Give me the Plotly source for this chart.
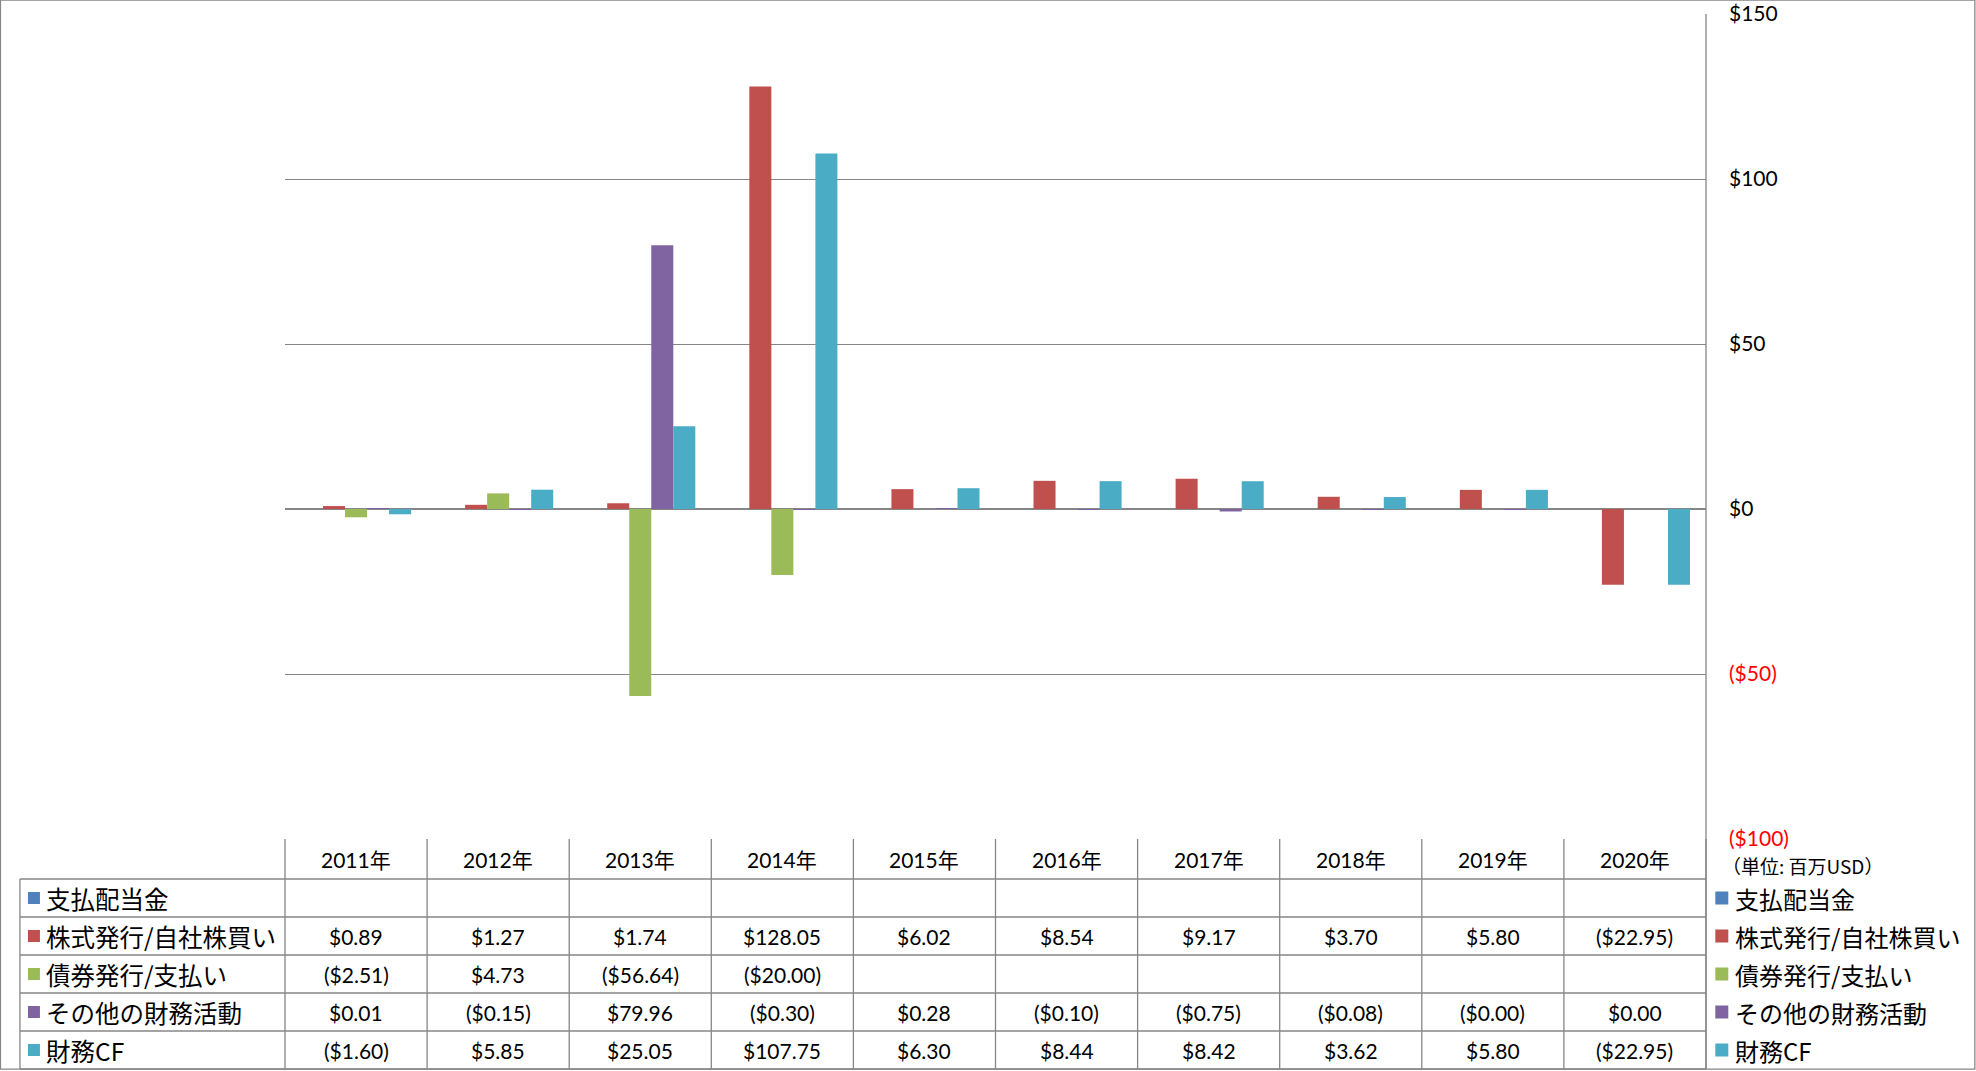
import plotly.graph_objects as go

# ---------------- data ----------------
years = ["2011年", "2012年", "2013年", "2014年", "2015年",
         "2016年", "2017年", "2018年", "2019年", "2020年"]
series_names = ["支払配当金", "株式発行/自社株買い", "債券発行/支払い", "その他の財務活動", "財務CF"]
dividends = [None, None, None, None, None, None, None, None, None, None]
stock = [0.89, 1.27, 1.74, 128.05, 6.02, 8.54, 9.17, 3.70, 5.80, -22.95]
bonds = [-2.51, 4.73, -56.64, -20.00, None, None, None, None, None, None]
other = [0.01, -0.15, 79.96, -0.30, 0.28, -0.10, -0.75, -0.08, -0.004, 0.00]
cf = [-1.60, 5.85, 25.05, 107.75, 6.30, 8.44, 8.42, 3.62, 5.80, -22.95]
series_values = [dividends, stock, bonds, other, cf]
colors = ["#4F81BD", "#C0504D", "#9BBB59", "#8064A2", "#4BACC6"]
tick_vals = [150, 100, 50, 0, -50, -100]
tick_text = ["$150", "$100", "$50", "$0", "($50)", "($100)"]
negative_tick_color = "#FF0000"
unit_label = "（単位: 百万USD）"

# ---------------- layout geometry (pixels) ----------------
W_PX, H_PX = 1976, 1071
L, R = 285.0, 1705.7
T, B = 14.3, 839.3
PW, PH = R - L, B - T
GRID = "#868686"
LATIN = "Lato, 'Noto Sans CJK JP', sans-serif"
CJK = "'Noto Sans CJK JP', sans-serif"


def px(x):
    return (x - L) / PW


def py(y):
    return (B - y) / PH


def fmt(v):
    if v is None:
        return ""
    if v < 0:
        return "(${:,.2f})".format(abs(v))
    return "${:,.2f}".format(v)


fig = go.Figure()
for name, vals, col in zip(series_names, series_values, colors):
    fig.add_trace(go.Bar(x=years, y=vals, name=name, marker=dict(color=col, line=dict(width=0)),
                         showlegend=False))

ticktext = []
for v, t in zip(tick_vals, tick_text):
    if v < 0:
        ticktext.append('<span style="color:%s">%s</span>' % (negative_tick_color, t))
    else:
        ticktext.append(t)

shapes = []
annotations = []

# outer border
shapes.append(dict(type="rect", xref="paper", yref="paper",
                   x0=px(0.5), x1=px(W_PX - 1.5), y0=py(0.5), y1=py(H_PX - 1.5),
                   line=dict(color=GRID, width=1.3), fillcolor="rgba(0,0,0,0)", layer="below"))
# right vertical axis line (plot + table)
header_top, header_bot = 839.3, 879.3
row_h = 38.0
row_lines = [header_bot + i * row_h for i in range(len(series_names) + 1)]
table_bottom = row_lines[-1]
shapes.append(dict(type="line", xref="paper", yref="paper", x0=1, x1=1, y0=1, y1=py(table_bottom),
                   line=dict(color=GRID, width=1.3)))
# table vertical lines
n = len(years)
for i in range(n + 1):
    xp = i / n
    shapes.append(dict(type="line", xref="paper", yref="paper", x0=xp, x1=xp,
                       y0=py(header_top), y1=py(table_bottom), line=dict(color=GRID, width=1.3)))
label_left = 20.0
shapes.append(dict(type="line", xref="paper", yref="paper", x0=px(label_left), x1=px(label_left),
                   y0=py(header_bot), y1=py(table_bottom), line=dict(color=GRID, width=1.3)))
# table horizontal lines
for yl in row_lines:
    shapes.append(dict(type="line", xref="paper", yref="paper", x0=px(label_left), x1=1,
                       y0=py(yl), y1=py(yl), line=dict(color=GRID, width=1.3)))

# header labels
for i, yr in enumerate(years):
    annotations.append(dict(x=yr, xref="x", y=py((header_top + header_bot) / 2), yref="paper",
                            text=yr, showarrow=False, xanchor="center", yanchor="middle",
                            font=dict(family=LATIN, size=21, color="#000000")))

# rows
for r, (name, vals, col) in enumerate(zip(series_names, series_values, colors)):
    yc = (row_lines[r] + row_lines[r + 1]) / 2
    # left legend key
    shapes.append(dict(type="rect", xref="paper", yref="paper",
                       x0=px(28), x1=px(40), y0=py(yc - 6), y1=py(yc + 6),
                       fillcolor=col, line=dict(width=0)))
    annotations.append(dict(x=px(44), xref="paper", y=py(yc), yref="paper", text=name,
                            showarrow=False, xanchor="left", yanchor="middle",
                            font=dict(family=CJK, size=24.5, color="#000000")))
    # right legend
    shapes.append(dict(type="rect", xref="paper", yref="paper",
                       x0=px(1715), x1=px(1728), y0=py(yc - 6.5), y1=py(yc + 6.5),
                       fillcolor=col, line=dict(width=0)))
    annotations.append(dict(x=px(1733), xref="paper", y=py(yc), yref="paper", text=name,
                            showarrow=False, xanchor="left", yanchor="middle",
                            font=dict(family=CJK, size=24, color="#000000")))
    for yr, v in zip(years, vals):
        if v is None:
            continue
        annotations.append(dict(x=yr, xref="x", y=py(yc), yref="paper", text=fmt(v),
                                showarrow=False, xanchor="center", yanchor="middle",
                                font=dict(family=LATIN, size=21, color="#000000")))

annotations.append(dict(x=px(1720), xref="paper", y=py(866), yref="paper", text=unit_label,
                        showarrow=False, xanchor="left", yanchor="middle",
                        font=dict(family=CJK, size=19, color="#000000")))

fig.update_layout(
    width=W_PX, height=H_PX, autosize=False,
    margin=dict(l=L, r=W_PX - R, t=T, b=H_PX - B, pad=0, autoexpand=False),
    paper_bgcolor="white", plot_bgcolor="white",
    barmode="group", bargap=0.225, bargroupgap=0,
    xaxis=dict(type="category", categoryorder="array", categoryarray=years, range=[-0.5, 9.5],
               showticklabels=False, showgrid=False, zeroline=False, showline=False, ticks="",
               automargin=False),
    yaxis=dict(range=[-100, 150], side="right", tickvals=tick_vals, ticktext=ticktext,
               showgrid=True, gridcolor=GRID, gridwidth=1.2,
               zeroline=True, zerolinecolor=GRID, zerolinewidth=2.2,
               showline=False, ticks="", ticklabelstandoff=22, automargin=False,
               tickfont=dict(family=LATIN, size=21, color="#000000")),
    shapes=shapes, annotations=annotations,
)

fig.write_html("out.html")
